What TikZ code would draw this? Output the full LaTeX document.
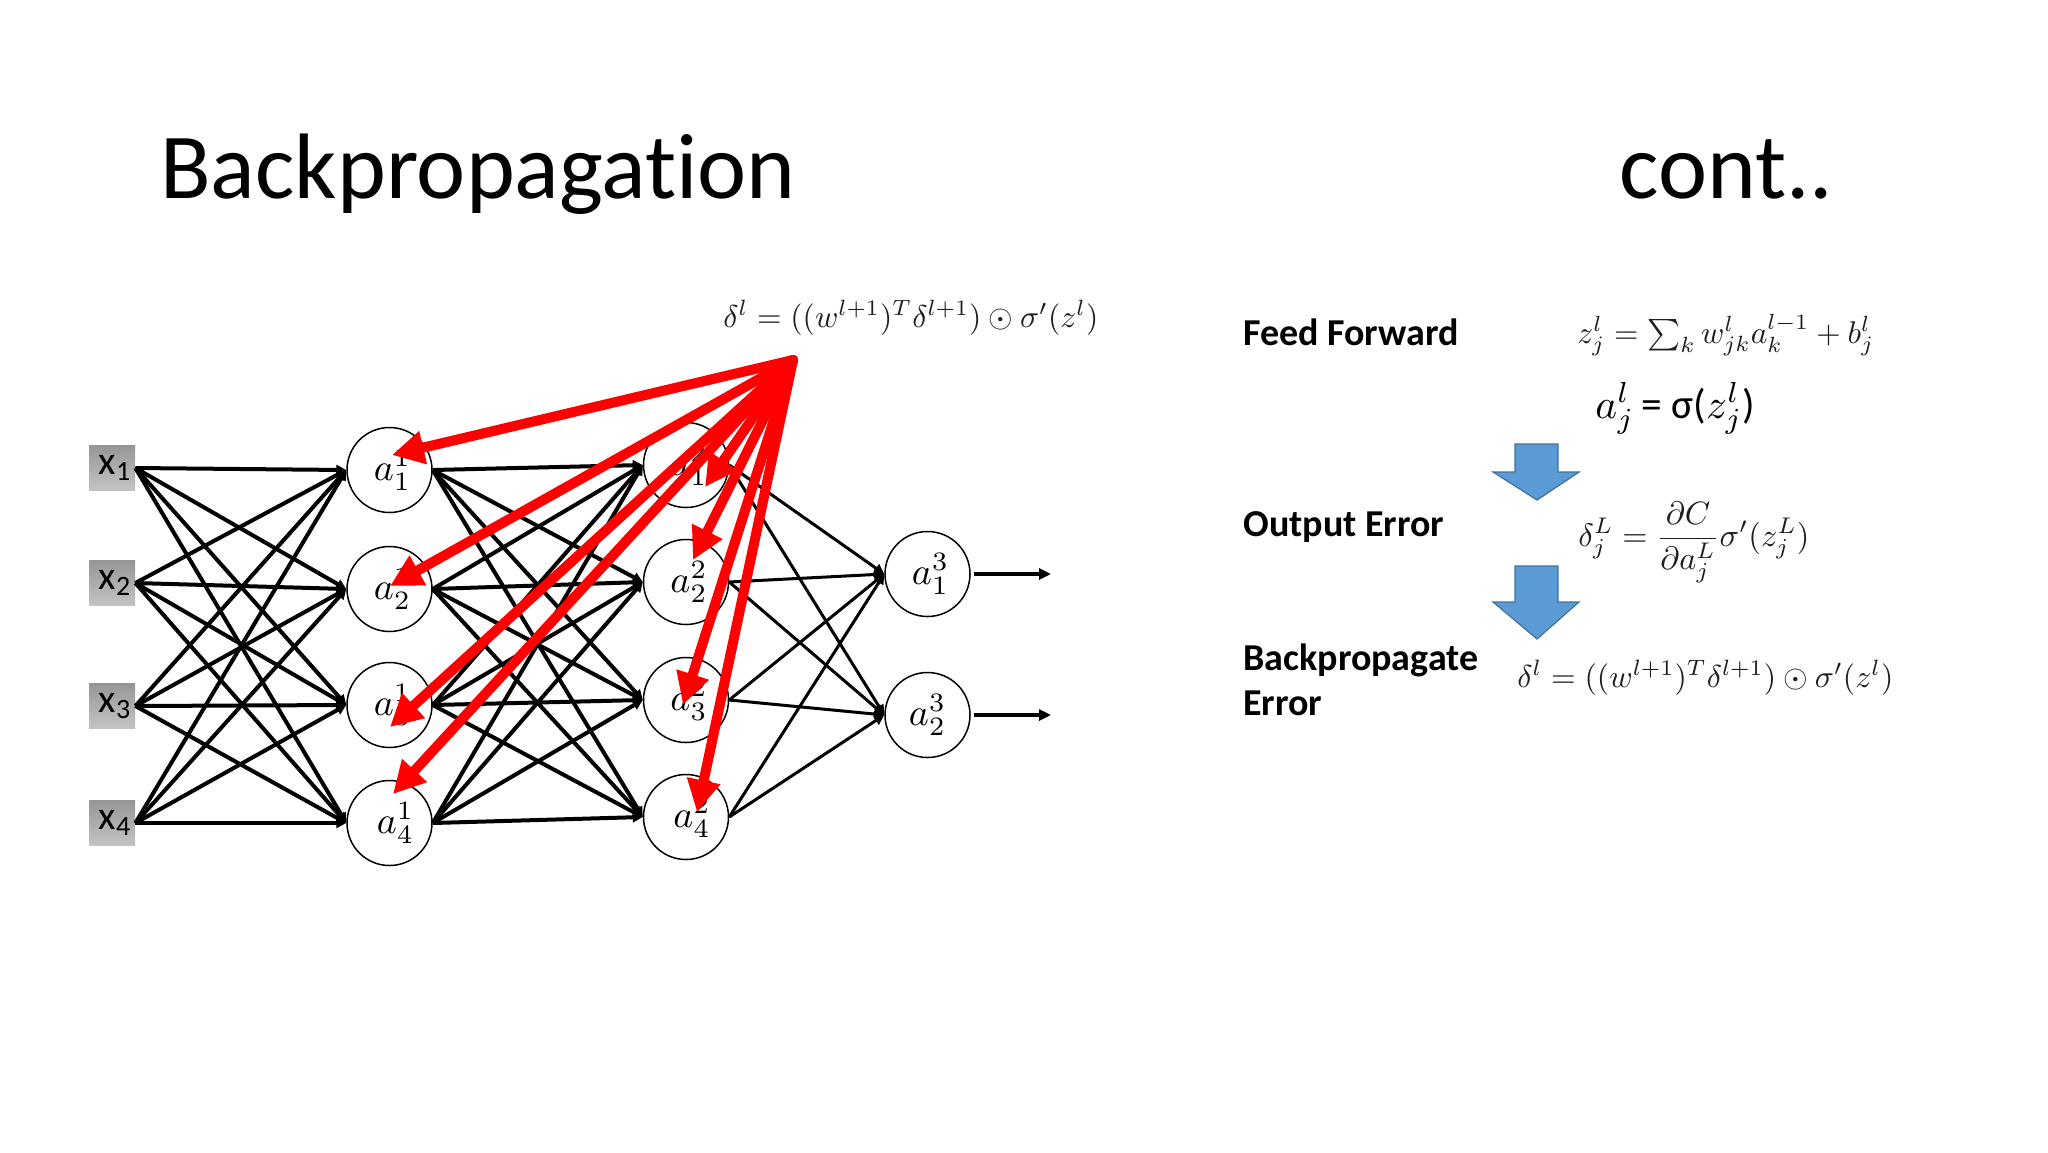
\documentclass[tikz,border=0pt]{standalone}
\usepackage{fontspec}
\usepackage{graphicx}
\newfontfamily\carl[Ligatures=NoCommon]{Carlito}
\usetikzlibrary{arrows.meta}
\definecolor{boxtop}{RGB}{150,150,150}
\definecolor{boxbot}{RGB}{196,196,196}
\definecolor{arrowblue}{RGB}{91,155,213}
\definecolor{arrowedge}{RGB}{65,113,156}
\definecolor{formula}{RGB}{30,30,30}
\newcommand{\nlab}[1]{\scalebox{1.9}{$#1$}}
\begin{document}
\begin{tikzpicture}[x=0.5pt,y=-0.5pt,
  inbox/.style={rectangle, draw=none, top color=boxtop, bottom color=boxbot,
    minimum width=23pt, minimum height=22.5pt, inner sep=0pt,
    font=\carl\fontsize{20}{22}\selectfont},
  neuron/.style={circle, draw, line width=0.75pt, fill=white,
    minimum size=42.5pt, inner sep=0pt},
  fwd/.style={line width=2pt, -{Triangle[length=5pt,width=5pt]}},
  fwdthin/.style={line width=1.5pt, -{Triangle[length=5pt,width=5pt]}},
  outarr/.style={line width=2pt, -{Triangle[length=6pt,width=5.5pt]}},
  backarr/.style={draw=red, line width=5pt, line cap=round,
    -{Triangle[length=16pt,width=16pt]}},
  sectext/.style={font=\carl\bfseries\fontsize{19}{23}\selectfont,
    anchor=base west, inner sep=0pt},
  titletext/.style={font=\carl\fontsize{46.5}{50}\selectfont,
    anchor=base west, inner sep=0pt},
  formnode/.style={inner sep=0pt, text=formula},
  bluearrow/.style={fill=arrowblue, draw=arrowedge, line width=0.6pt}
]
\useasboundingbox (0,0) rectangle (2048,1152);
\fill[white] (0,0) rectangle (2048,1152);

% titles
\node[titletext] (title) at (160,198) {Backpropagation};
\node[titletext] (cont) at (1619,198) {cont..};

% input boxes
\node[inbox] (x1) at (112,468) {\hspace*{3pt}x\textsubscript{1}};
\node[inbox] (x2) at (112,583) {\hspace*{3pt}x\textsubscript{2}};
\node[inbox] (x3) at (112,706) {\hspace*{3pt}x\textsubscript{3}};
\node[inbox] (x4) at (112,823) {\hspace*{3pt}x\textsubscript{4}};

% layer 1
\node[neuron] (p1) at (389.5,470) {\hspace*{3pt}\nlab{a_1^1}};
\node[neuron] (p2) at (389.5,589) {\hspace*{3pt}\nlab{a_2^1}};
\node[neuron] (p3) at (389.5,705) {\hspace*{3pt}\nlab{a_3^1}};
\node[neuron] (p4) at (389.5,823) {\hspace*{6pt}\nlab{a_4^1}};
% layer 2
\node[neuron] (q1) at (686,465) {\hspace*{3pt}\nlab{a_1^2}};
\node[neuron] (q2) at (686,582) {\hspace*{3pt}\nlab{a_2^2}};
\node[neuron] (q3) at (686,700) {\hspace*{3pt}\nlab{a_3^2}};
\node[neuron] (q4) at (686,817) {\hspace*{6pt}\nlab{a_4^2}};
% layer 3
\node[neuron] (r1) at (927.5,574) {\hspace*{3pt}\nlab{a_1^3}};
\node[neuron] (r2) at (927.5,715) {\nlab{a_2^3}};

% forward connections
\foreach \i in {1,...,4}{
  \foreach \j in {1,...,4}{
    \draw[fwd] (x\i.east) -- (p\j.west);
    \draw[fwd] (p\i.east) -- (q\j.west);
  }
  \foreach \j in {1,2}{
    \draw[fwdthin] (q\i.east) -- (r\j.west);
  }
}

% outputs
\coordinate (o1) at (1051,574);
\coordinate (o2) at (1051,715);
\draw[outarr] ([xshift=1.5pt]r1.east) -- (o1);
\draw[outarr] ([xshift=1.5pt]r2.east) -- (o2);

% top formula
\node[formnode, anchor=base west] (ftop) at (723,327)
  {\resizebox{187.5pt}{!}{$\delta^l = ((w^{l+1})^T \delta^{l+1}) \odot \sigma'(z^l)$}};

% red back-propagation arrows
\coordinate (src) at (793,360);
\coordinate (tp1) at (392,455);
\coordinate (tp2) at (390,586);
\coordinate (tp3) at (390,727);
\coordinate (tp4) at (393,794);
\coordinate (tq1) at (705,487);
\coordinate (tq2) at (693,560);
\coordinate (tq3) at (683,705);
\coordinate (tq4) at (697,812);
\foreach \t in {tp1,tp2,tp3,tp4,tq1,tq2,tq3,tq4}{
  \draw[backarr] (src) -- (\t);
}

% right side labels
\node[sectext] (ff) at (1243,345) {Feed Forward};
\node[sectext] (oe) at (1243,536) {Output Error};
\node[sectext] (bp) at (1243,670) {Backpropagate};
\node[sectext] (bpe) at (1243,715) {Error};

% right side formulas
\node[formnode, anchor=base west] (fz) at (1577,343)
  {\resizebox{148.5pt}{!}{$z_j^l = \sum_k w_{jk}^l a_k^{l-1} + b_j^l$}};
\node[formnode, anchor=base west, text=black] (fa) at (1595,418)
  {\resizebox{80pt}{!}{$a_j^l$\,{\carl = σ(}$z_j^l${\carl )}}};
\node[formnode, anchor=north west] (fo) at (1578,502)
  {\resizebox{115.5pt}{!}{$\displaystyle \delta_j^L = \frac{\partial C}{\partial a_j^L}\sigma'(z_j^L)$}};
\node[formnode, anchor=base west] (fb) at (1517,687)
  {\resizebox{188pt}{!}{$\delta^l = ((w^{l+1})^T \delta^{l+1}) \odot \sigma'(z^l)$}};

% blue block arrows
\draw[bluearrow] (1515,444) -- (1558,444) -- (1558,472) -- (1579,472)
  -- (1537,500) -- (1493,472) -- (1515,472) -- cycle;
\draw[bluearrow] (1515,566) -- (1558,566) -- (1558,602) -- (1579,602)
  -- (1537,639) -- (1493,602) -- (1515,602) -- cycle;
\end{tikzpicture}
\end{document}
